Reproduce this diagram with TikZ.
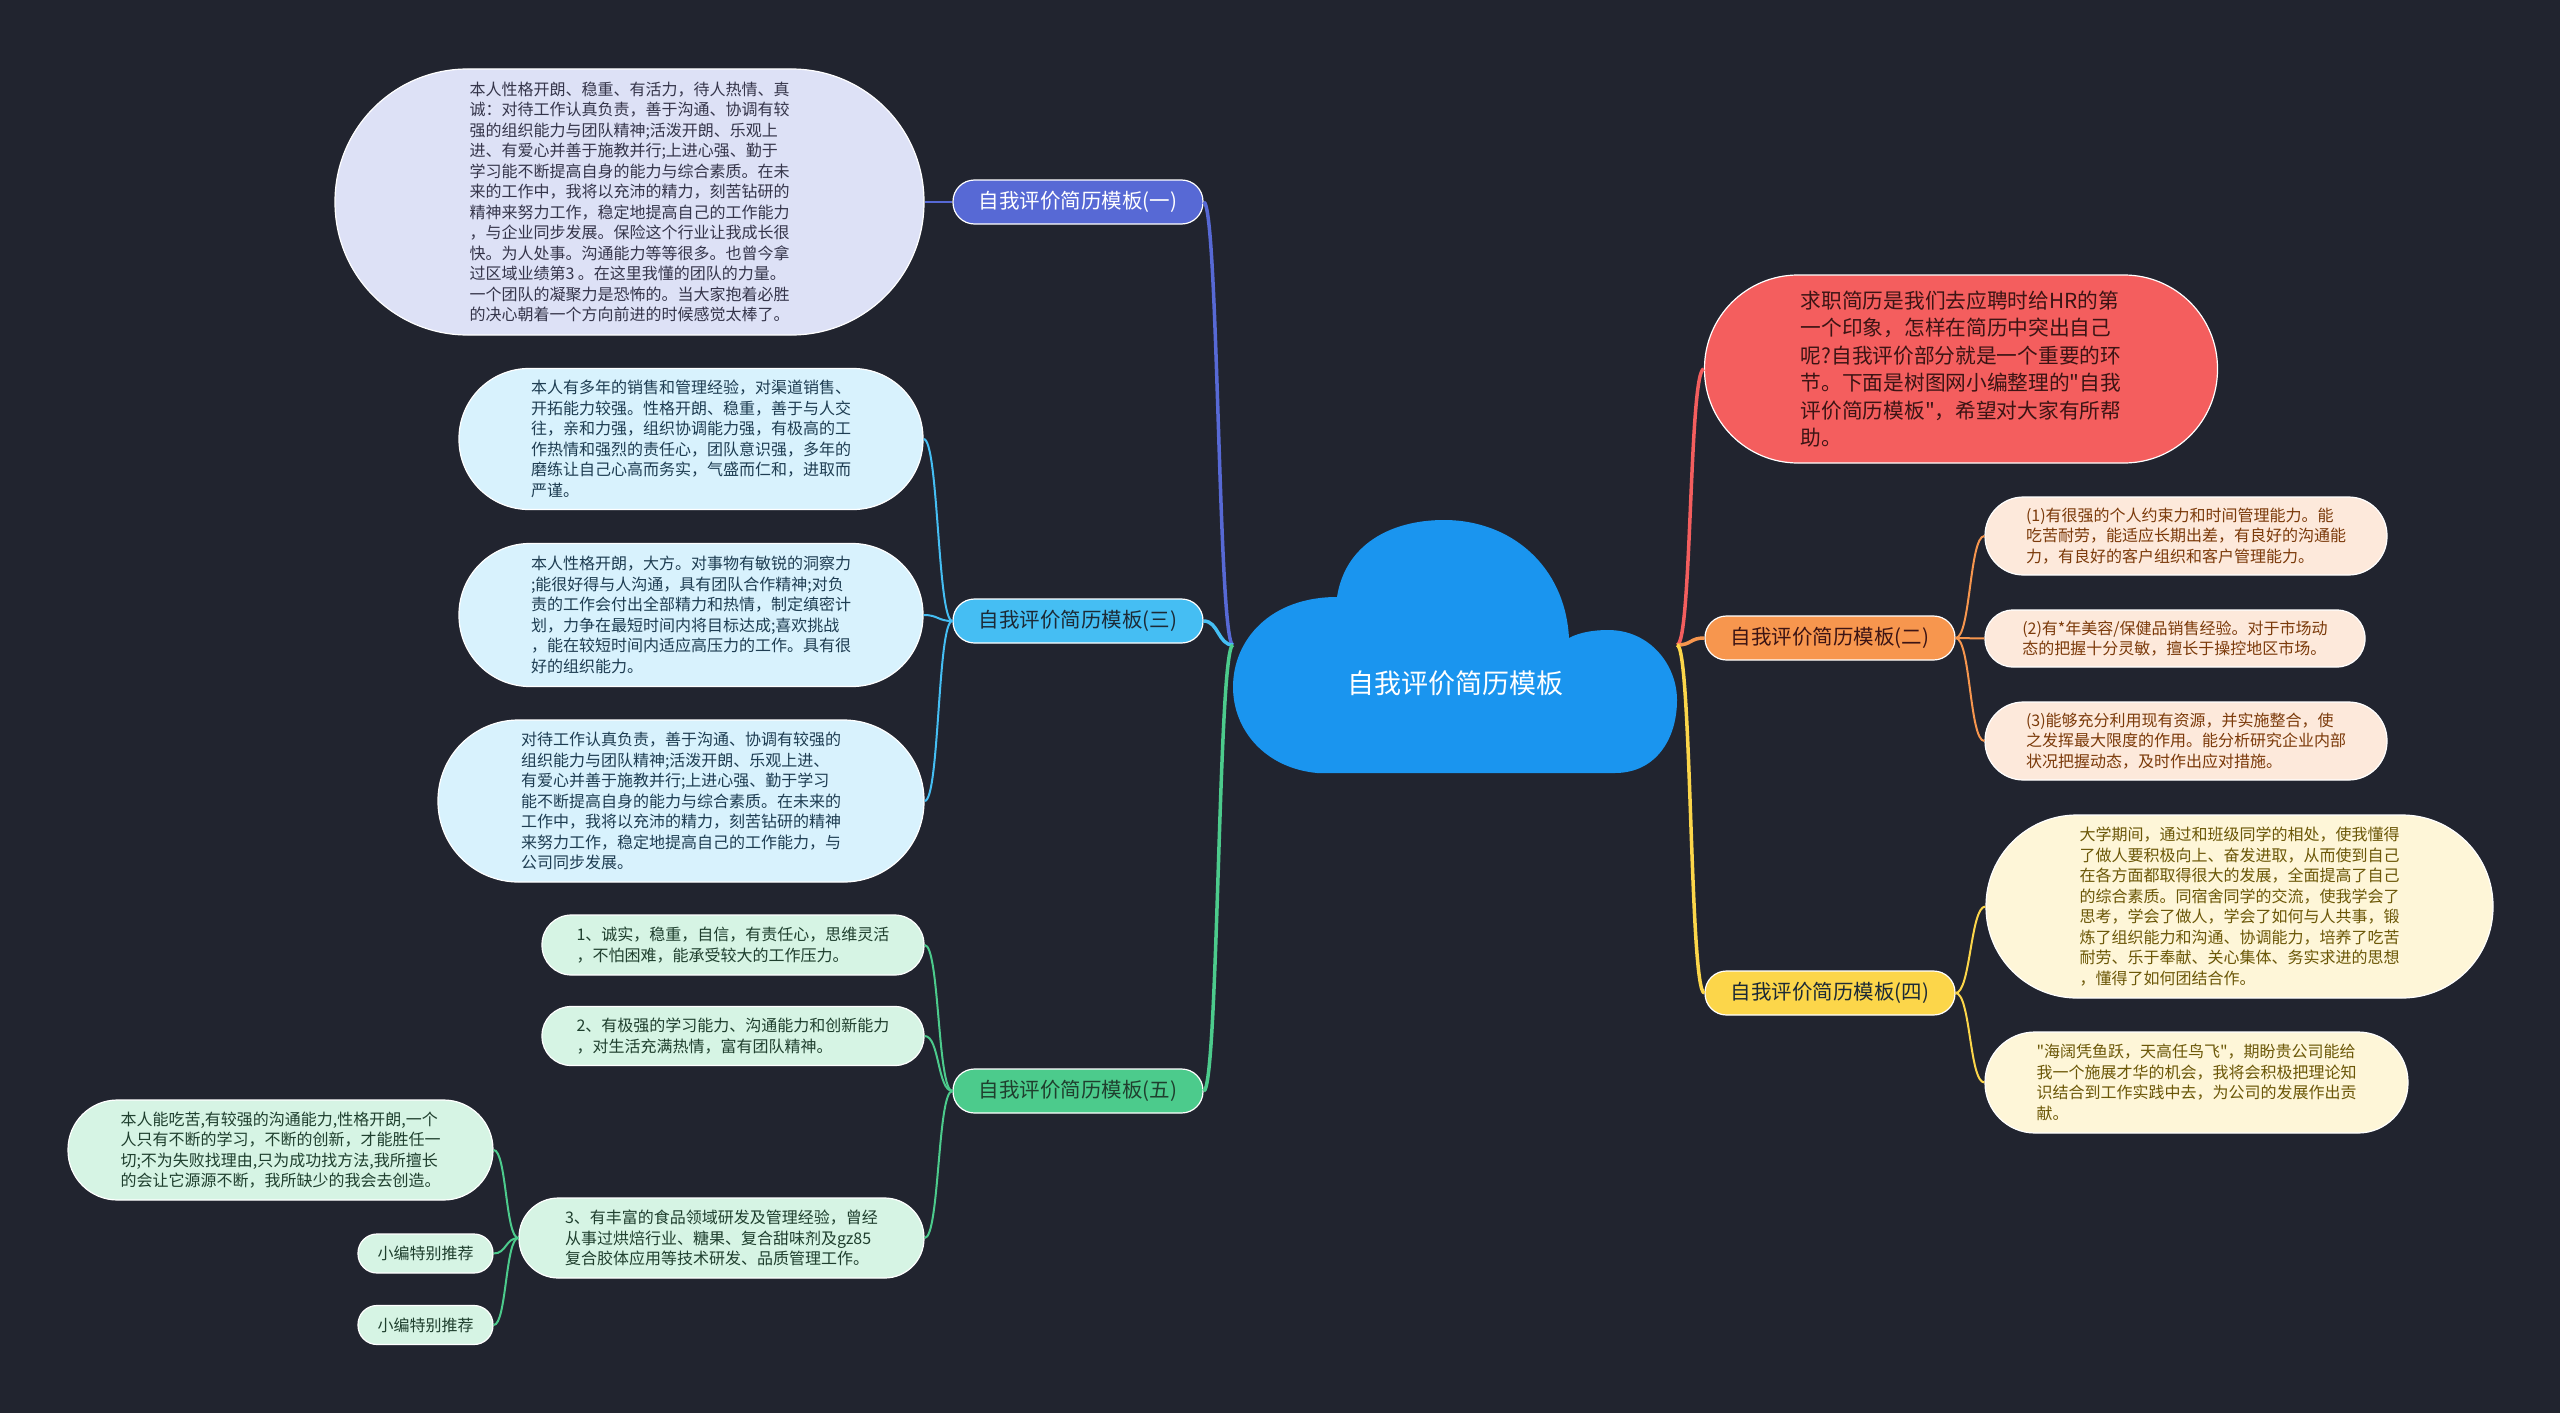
\documentclass[tikz,border=0pt]{standalone}
\usepackage{fontspec}
\newfontfamily\cjk{Noto Sans CJK SC}
\definecolor{bgc}{HTML}{21242F}
\definecolor{cloudc}{HTML}{1A95EF}
\definecolor{cone}{HTML}{5769D5}
\definecolor{fA}{HTML}{DDE1F6}
\definecolor{tA}{HTML}{35354A}
\definecolor{cthree}{HTML}{45BEF3}
\definecolor{fB}{HTML}{D8F2FD}
\definecolor{tB}{HTML}{1E3D52}
\definecolor{cfive}{HTML}{4CCB8C}
\definecolor{fC}{HTML}{D6F4E4}
\definecolor{tC}{HTML}{1F3F2E}
\definecolor{cred}{HTML}{F45E5E}
\definecolor{tR}{HTML}{3C1414}
\definecolor{ctwo}{HTML}{F7964E}
\definecolor{fE}{HTML}{FDE9DB}
\definecolor{tE}{HTML}{7B3A0A}
\definecolor{cfour}{HTML}{FCD64A}
\definecolor{fF}{HTML}{FEF6D8}
\definecolor{tF}{HTML}{6B5707}
\definecolor{tL}{HTML}{1C2A36}
\begin{document}
\begin{tikzpicture}[x=1pt,y=-1pt,
  bub/.style={draw=white, line width=1.2pt, align=left, inner sep=0pt,
    font=\cjk\fontsize{16}{20.5}\selectfont},
  lone/.style={draw=white, line width=1.2pt, minimum width=250pt, minimum height=44pt,
    rounded corners=21.5pt, inner sep=0pt, font=\cjk\fontsize{20.5}{24}\selectfont},
  trunk/.style={line width=3.5pt},
  twig/.style={line width=2pt}]
\useasboundingbox (0,0) rectangle (2560,1413);
\fill[bgc] (0,0) rectangle (2560,1413);

% central cloud
\fill[cloudc] (1317,773) .. controls (1265,768) and (1233,730) .. (1233,687)
  .. controls (1233,640) and (1270,597) .. (1337,597)
  .. controls (1345,545) and (1390,520) .. (1444,520)
  .. controls (1510,520) and (1565,565) .. (1569,638)
  .. controls (1580,632) and (1595,630) .. (1608,630)
  .. controls (1650,630) and (1677,665) .. (1677,700)
  .. controls (1677,740) and (1655,773) .. (1615,773) -- cycle;
\node[text=white, font=\cjk\fontsize{27}{32}\selectfont] (root) at (1455,683) {自我评价简历模板};
\coordinate (rootL) at (1233,645);
\coordinate (rootR) at (1677,645);

% level one
\node[lone, fill=cone, text=white] (one) at (1078,202) {自我评价简历模板(一)};
\node[lone, fill=cthree, text=tL] (three) at (1078,621) {自我评价简历模板(三)};
\node[lone, fill=cfive, text=tC] (five) at (1078,1091) {自我评价简历模板(五)};
\node[lone, fill=ctwo, text=tR] (two) at (1830,638) {自我评价简历模板(二)};
\node[lone, fill=cfour, text=tL] (four) at (1830,993) {自我评价简历模板(四)};

% red intro
\node[bub, fill=cred, text=tR, minimum width=513pt, minimum height=188pt, rounded corners=93.5pt,
  font=\cjk\fontsize{20.7}{27.5}\selectfont] (red) at (1961,369) {求职简历是我们去应聘时给HR的第\\一个印象，怎样在简历中突出自己\\呢?自我评价部分就是一个重要的环\\节。下面是树图网小编整理的"自我\\评价简历模板"，希望对大家有所帮\\助。};

% branch one
\node[bub, fill=fA, text=tA, minimum width=589pt, minimum height=266pt, rounded corners=132.5pt] (A) at (629.5,202) {本人性格开朗、稳重、有活力，待人热情、真\\诚：对待工作认真负责，善于沟通、协调有较\\强的组织能力与团队精神;活泼开朗、乐观上\\进、有爱心并善于施教并行;上进心强、勤于\\学习能不断提高自身的能力与综合素质。在未\\来的工作中，我将以充沛的精力，刻苦钻研的\\精神来努力工作，稳定地提高自己的工作能力\\，与企业同步发展。保险这个行业让我成长很\\快。为人处事。沟通能力等等很多。也曾今拿\\过区域业绩第3 。在这里我懂的团队的力量。\\一个团队的凝聚力是恐怖的。当大家抱着必胜\\的决心朝着一个方向前进的时候感觉太棒了。};

% branch three
\node[bub, fill=fB, text=tB, minimum width=464pt, minimum height=141pt, rounded corners=70pt] (B1) at (691,439) {本人有多年的销售和管理经验，对渠道销售、\\开拓能力较强。性格开朗、稳重，善于与人交\\往，亲和力强，组织协调能力强，有极高的工\\作热情和强烈的责任心，团队意识强，多年的\\磨练让自己心高而务实，气盛而仁和，进取而\\严谨。};
\node[bub, fill=fB, text=tB, minimum width=464pt, minimum height=143pt, rounded corners=71pt] (B2) at (691,615) {本人性格开朗，大方。对事物有敏锐的洞察力\\;能很好得与人沟通，具有团队合作精神;对负\\责的工作会付出全部精力和热情，制定缜密计\\划，力争在最短时间内将目标达成;喜欢挑战\\，能在较短时间内适应高压力的工作。具有很\\好的组织能力。};
\node[bub, fill=fB, text=tB, minimum width=486pt, minimum height=162pt, rounded corners=80.5pt] (B3) at (681,801) {对待工作认真负责，善于沟通、协调有较强的\\组织能力与团队精神;活泼开朗、乐观上进、\\有爱心并善于施教并行;上进心强、勤于学习\\能不断提高自身的能力与综合素质。在未来的\\工作中，我将以充沛的精力，刻苦钻研的精神\\来努力工作，稳定地提高自己的工作能力，与\\公司同步发展。};

% branch five
\node[bub, fill=fC, text=tC, minimum width=382pt, minimum height=60pt, rounded corners=29.5pt] (C1) at (733,945) {1、诚实，稳重，自信，有责任心，思维灵活\\，不怕困难，能承受较大的工作压力。};
\node[bub, fill=fC, text=tC, minimum width=382pt, minimum height=59pt, rounded corners=29pt] (C2) at (733,1036) {2、有极强的学习能力、沟通能力和创新能力\\，对生活充满热情，富有团队精神。};
\node[bub, fill=fC, text=tC, minimum width=405pt, minimum height=80pt, rounded corners=39.5pt] (C3) at (721.5,1238) {3、有丰富的食品领域研发及管理经验，曾经\\从事过烘焙行业、糖果、复合甜味剂及gz85\\复合胶体应用等技术研发、品质管理工作。};
\node[bub, fill=fC, text=tC, minimum width=425pt, minimum height=100pt, rounded corners=49.5pt] (D1) at (280.5,1150) {本人能吃苦,有较强的沟通能力,性格开朗,一个\\人只有不断的学习，不断的创新，才能胜任一\\切;不为失败找理由,只为成功找方法,我所擅长\\的会让它源源不断，我所缺少的我会去创造。};
\node[bub, fill=fC, text=tC, minimum width=135pt, minimum height=39pt, rounded corners=19pt] (D2) at (425.5,1253.5) {小编特别推荐};
\node[bub, fill=fC, text=tC, minimum width=135pt, minimum height=39pt, rounded corners=19pt] (D3) at (425.5,1325) {小编特别推荐};

% branch two
\node[bub, fill=fE, text=tE, minimum width=402pt, minimum height=78pt, rounded corners=38.5pt] (E1) at (2186,536) {(1)有很强的个人约束力和时间管理能力。能\\吃苦耐劳，能适应长期出差，有良好的沟通能\\力，有良好的客户组织和客户管理能力。};
\node[bub, fill=fE, text=tE, minimum width=380pt, minimum height=57pt, rounded corners=28pt] (E2) at (2175,638.5) {(2)有*年美容/保健品销售经验。对于市场动\\态的把握十分灵敏，擅长于操控地区市场。};
\node[bub, fill=fE, text=tE, minimum width=402pt, minimum height=78pt, rounded corners=38.5pt] (E3) at (2186,741) {(3)能够充分利用现有资源，并实施整合，使\\之发挥最大限度的作用。能分析研究企业内部\\状况把握动态，及时作出应对措施。};

% branch four
\node[bub, fill=fF, text=tF, minimum width=507pt, minimum height=183pt, rounded corners=91pt] (F1) at (2239.5,906.5) {大学期间，通过和班级同学的相处，使我懂得\\了做人要积极向上、奋发进取，从而使到自己\\在各方面都取得很大的发展，全面提高了自己\\的综合素质。同宿舍同学的交流，使我学会了\\思考，学会了做人，学会了如何与人共事，锻\\炼了组织能力和沟通、协调能力，培养了吃苦\\耐劳、乐于奉献、关心集体、务实求进的思想\\，懂得了如何团结合作。};
\node[bub, fill=fF, text=tF, minimum width=423pt, minimum height=101pt, rounded corners=50pt] (F2) at (2196.5,1082.5) {"海阔凭鱼跃，天高任鸟飞"，期盼贵公司能给\\我一个施展才华的机会，我将会积极把理论知\\识结合到工作实践中去，为公司的发展作出贡\\献。};

% trunk connectors
\draw[trunk, cone] (rootL) .. controls +(-15,0) and +(15,0) .. (one.east);
\draw[trunk, cthree] (rootL) .. controls +(-15,0) and +(15,0) .. (three.east);
\draw[trunk, cfive] (rootL) .. controls +(-15,0) and +(15,0) .. (five.east);
\draw[trunk, cred] (rootR) .. controls +(15,0) and +(-15,0) .. (red.west);
\draw[trunk, ctwo] (rootR) .. controls +(15,0) and +(-15,0) .. (two.west);
\draw[trunk, cfour] (rootR) .. controls +(15,0) and +(-15,0) .. (four.west);

% twig connectors
\draw[twig, cone] (one.west) -- (A.east);
\draw[twig, cthree] (three.west) .. controls +(-15,0) and +(15,0) .. (B1.east);
\draw[twig, cthree] (three.west) .. controls +(-15,0) and +(15,0) .. (B2.east);
\draw[twig, cthree] (three.west) .. controls +(-15,0) and +(15,0) .. (B3.east);
\draw[twig, cfive] (five.west) .. controls +(-15,0) and +(15,0) .. (C1.east);
\draw[twig, cfive] (five.west) .. controls +(-15,0) and +(15,0) .. (C2.east);
\draw[twig, cfive] (five.west) .. controls +(-15,0) and +(15,0) .. (C3.east);
\draw[twig, cfive] (C3.west) .. controls +(-13,0) and +(13,0) .. (D1.east);
\draw[twig, cfive] (C3.west) .. controls +(-13,0) and +(13,0) .. (D2.east);
\draw[twig, cfive] (C3.west) .. controls +(-13,0) and +(13,0) .. (D3.east);
\draw[twig, ctwo] (two.east) .. controls +(15,0) and +(-15,0) .. (E1.west);
\draw[twig, ctwo] (two.east) -- (E2.west);
\draw[twig, ctwo] (two.east) .. controls +(15,0) and +(-15,0) .. (E3.west);
\draw[twig, cfour] (four.east) .. controls +(15,0) and +(-15,0) .. (F1.west);
\draw[twig, cfour] (four.east) .. controls +(15,0) and +(-15,0) .. (F2.west);
\end{tikzpicture}
\end{document}
